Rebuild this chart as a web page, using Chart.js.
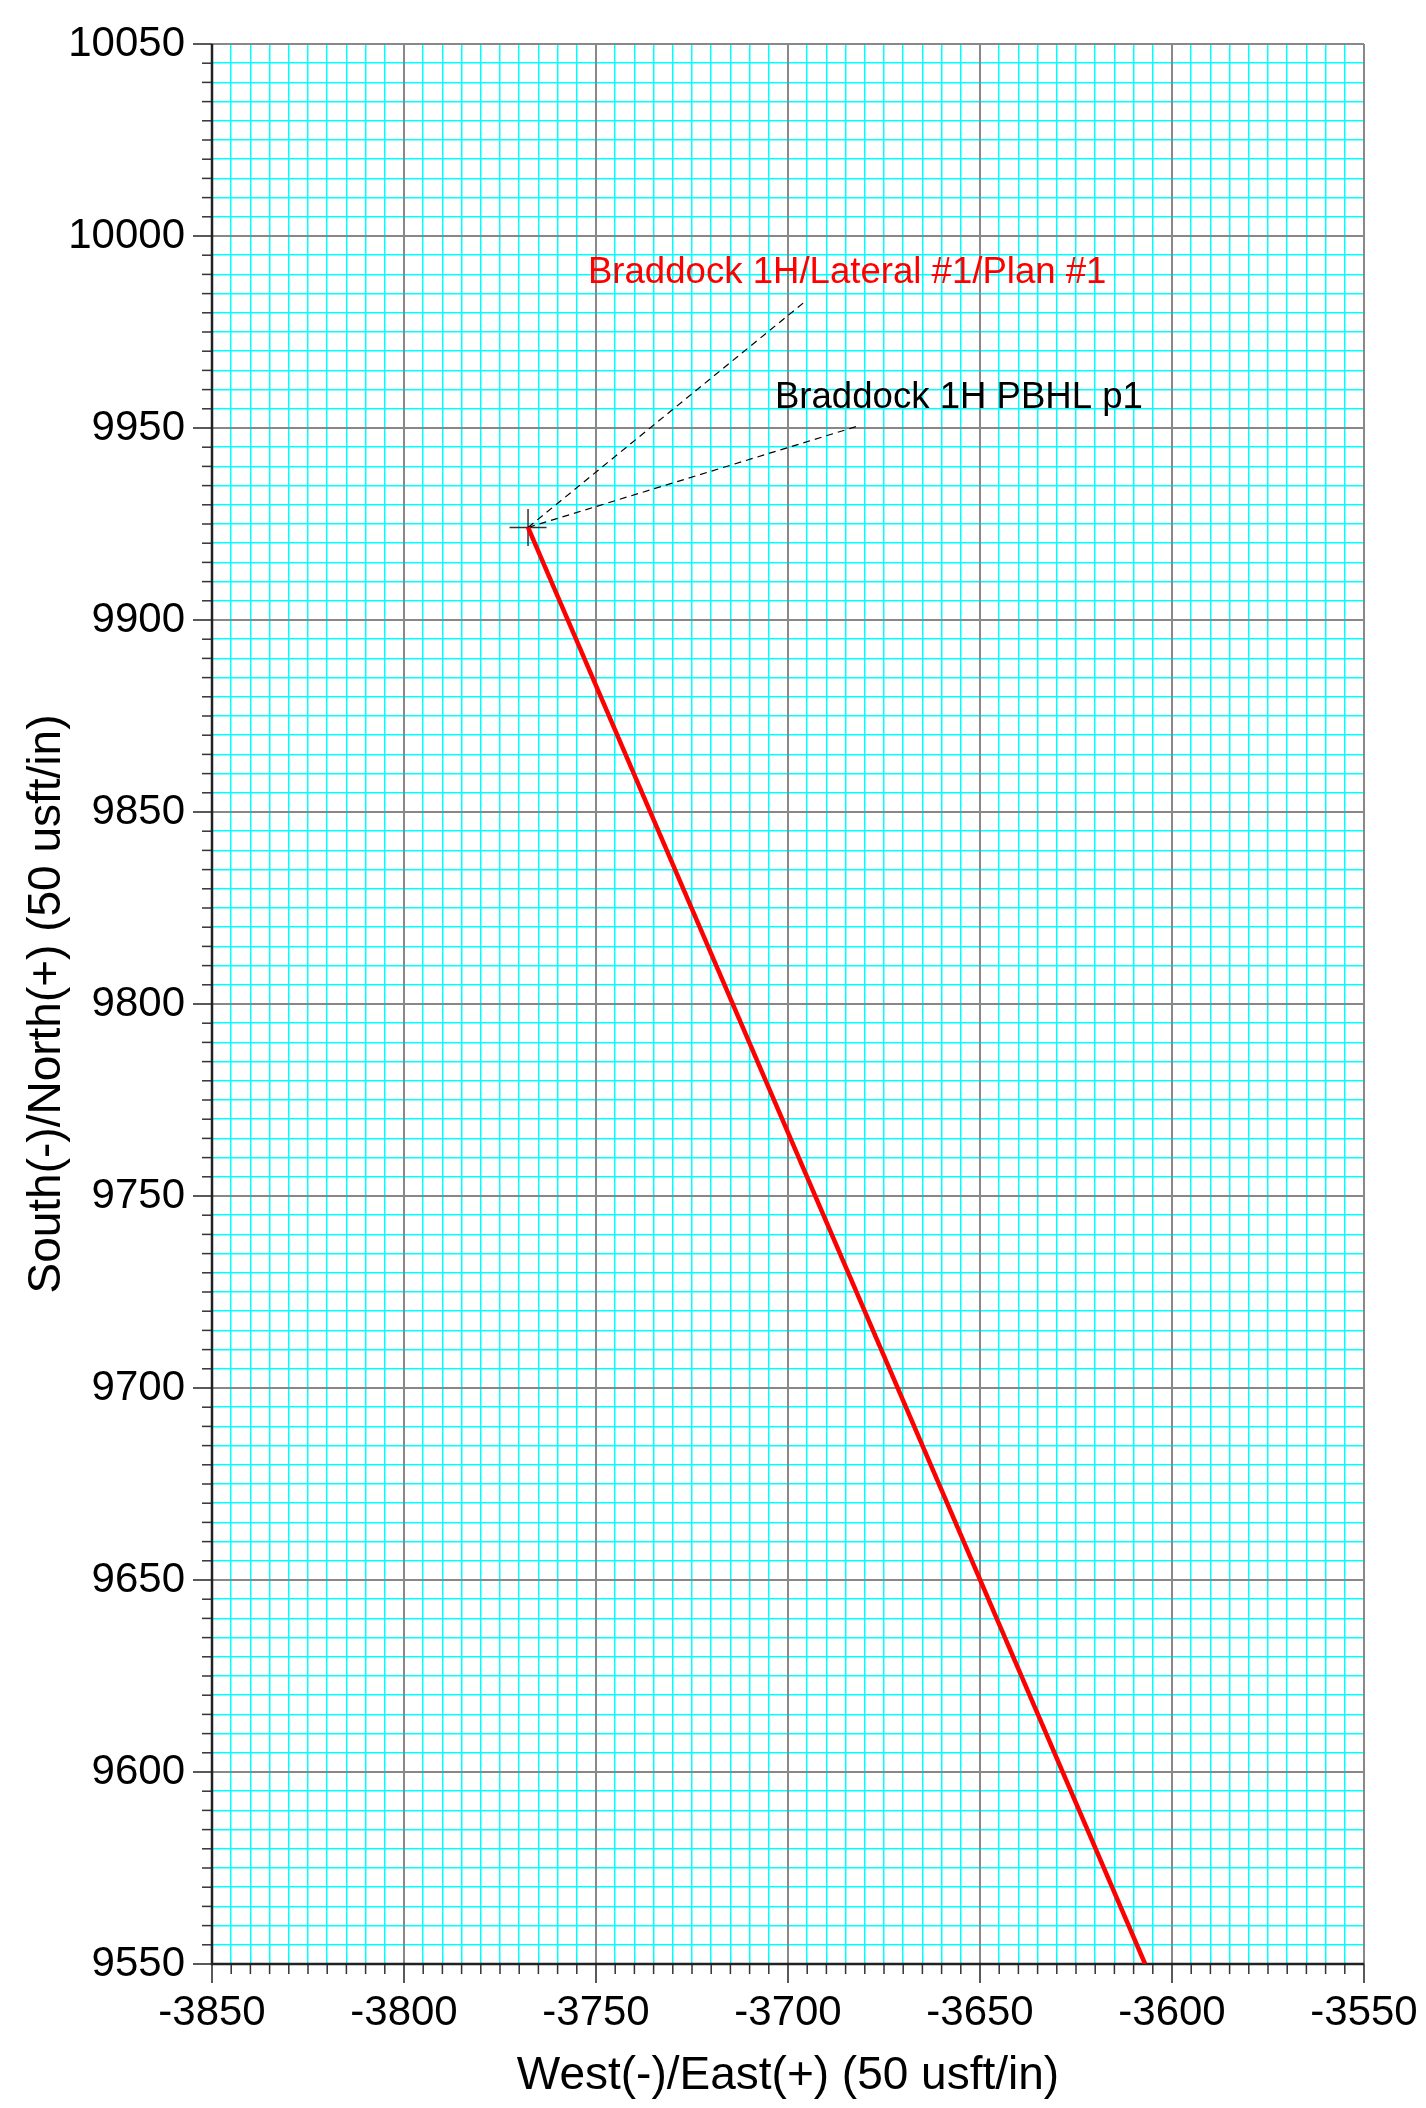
<!DOCTYPE html>
<html lang="en">
<head>
  <meta charset="UTF-8">
  <title>Braddock 1H Plan View</title>
  <script src="https://cdn.jsdelivr.net/npm/chart.js"></script>
  <style>
    body {
      margin: 0;
      padding: 0;
      background-color: white;
    }
    .chart-box {
      width: 1426px;
      height: 2108px;
    }
  </style>
</head>
<body>
  <div class="chart-box">
    <canvas id="planChart"></canvas>
  </div>

  <script>
    // axis ranges and tick steps (usft)
    const eastRange = [-3850, -3550];
    const northRange = [9550, 10050];
    const majorStep = 50;
    const minorStep = 5;

    // well path, plan #1
    const planEast = [-3767.7, -3607.0];
    const planNorth = [9924.1, 9550];

    // target marker (PBHL)
    const targetEast = [-3767.7];
    const targetNorth = [9924.1];

    // annotation texts, where they sit and where their leader lines end
    const labelTexts = ['Braddock 1H/Lateral #1/Plan #1', 'Braddock 1H PBHL p1'];
    const labelColors = ['#ff0000', '#000000'];
    const labelEast = [-3752.1, -3703.4];
    const labelNorth = [9987.8, 9955.2];
    const leaderEast = [-3695.1, -3681.8];
    const leaderNorth = [9983.3, 9950.5];

    const fontFamily = "'Liberation Sans', Arial, Helvetica, sans-serif";

    function isMajor(v) {
      return Math.round(v) % majorStep === 0;
    }

    const planData = planEast.map((x, i) => ({ x: x, y: planNorth[i] }));
    const targetData = targetEast.map((x, i) => ({ x: x, y: targetNorth[i] }));
    const leaderSets = labelTexts.map((t, i) => ({
      data: [
        { x: targetEast[0], y: targetNorth[0] },
        { x: leaderEast[i], y: leaderNorth[i] }
      ],
      showLine: true,
      borderColor: '#000',
      borderWidth: 1.2,
      borderDash: [7, 5],
      pointRadius: 0
    }));

    // minor ticks, major grid on top of the cyan grid, and the well labels
    const paperPlugin = {
      id: 'paper',
      beforeDatasetsDraw(chart) {
        const ctx = chart.ctx;
        const area = chart.chartArea;
        const xs = chart.scales.x, ys = chart.scales.y;
        ctx.save();
        ctx.strokeStyle = '#888';
        ctx.lineWidth = 2;
        xs.ticks.forEach(t => {
          if (!isMajor(t.value)) return;
          const px = xs.getPixelForValue(t.value);
          ctx.beginPath();
          ctx.moveTo(px, area.top);
          ctx.lineTo(px, area.bottom);
          ctx.stroke();
        });
        ys.ticks.forEach(t => {
          if (!isMajor(t.value)) return;
          const py = ys.getPixelForValue(t.value);
          ctx.beginPath();
          ctx.moveTo(area.left, py);
          ctx.lineTo(area.right, py);
          ctx.stroke();
        });
        // minor tick marks outside the frame
        ctx.strokeStyle = '#333';
        ctx.lineWidth = 1.5;
        xs.ticks.forEach(t => {
          if (isMajor(t.value)) return;
          const px = xs.getPixelForValue(t.value);
          ctx.beginPath();
          ctx.moveTo(px, area.bottom);
          ctx.lineTo(px, area.bottom + 10);
          ctx.stroke();
        });
        ys.ticks.forEach(t => {
          if (isMajor(t.value)) return;
          const py = ys.getPixelForValue(t.value);
          ctx.beginPath();
          ctx.moveTo(area.left - 10, py);
          ctx.lineTo(area.left, py);
          ctx.stroke();
        });
        // left and bottom frame in black
        ctx.strokeStyle = '#222';
        ctx.lineWidth = 2.5;
        ctx.beginPath();
        ctx.moveTo(area.left, area.top);
        ctx.lineTo(area.left, area.bottom);
        ctx.lineTo(area.right, area.bottom);
        ctx.stroke();
        ctx.restore();
      },
      afterDatasetsDraw(chart) {
        const ctx = chart.ctx;
        const xs = chart.scales.x, ys = chart.scales.y;
        ctx.save();
        ctx.font = '36.6px ' + fontFamily;
        ctx.textAlign = 'left';
        ctx.textBaseline = 'alphabetic';
        labelTexts.forEach((txt, i) => {
          ctx.fillStyle = labelColors[i];
          ctx.fillText(txt, xs.getPixelForValue(labelEast[i]), ys.getPixelForValue(labelNorth[i]));
        });
        ctx.restore();
      }
    };

    new Chart(document.getElementById('planChart'), {
      type: 'scatter',
      data: {
        datasets: [
          {
            data: planData,
            showLine: true,
            borderColor: '#ff0000',
            borderWidth: 4.5,
            pointRadius: 0
          },
          ...leaderSets,
          {
            data: targetData,
            pointStyle: 'cross',
            pointRadius: 18.5,
            pointBorderColor: '#333',
            pointBorderWidth: 1.5,
            showLine: false
          }
        ]
      },
      options: {
        responsive: true,
        maintainAspectRatio: false,
        animation: false,
        events: [],
        layout: {
          padding: { left: 0, top: 44, right: 62, bottom: 0 }
        },
        plugins: {
          legend: { display: false },
          tooltip: { enabled: false }
        },
        scales: {
          x: {
            type: 'linear',
            min: eastRange[0],
            max: eastRange[1],
            afterFit: s => { s.height = 144; },
            border: { display: false },
            grid: {
              color: c => isMajor(c.tick.value) ? '#888' : '#00ffff',
              lineWidth: c => isMajor(c.tick.value) ? 2 : 1.5,
              tickColor: c => isMajor(c.tick.value) ? '#222' : 'rgba(0,0,0,0)',
              tickLength: 19,
              tickWidth: 1.5
            },
            ticks: {
              stepSize: minorStep,
              autoSkip: false,
              maxTicksLimit: 1000,
              maxRotation: 0,
              minRotation: 0,
              padding: 5,
              color: '#000',
              font: { family: fontFamily, size: 42 },
              callback: v => isMajor(v) ? String(Math.round(v)) : ''
            },
            title: {
              display: true,
              text: 'West(-)/East(+) (50 usft/in)',
              color: '#000',
              font: { family: fontFamily, size: 46 },
              padding: { top: 0, bottom: 4 }
            }
          },
          y: {
            type: 'linear',
            min: northRange[0],
            max: northRange[1],
            afterFit: s => { s.width = 212; },
            border: { display: false },
            grid: {
              color: c => isMajor(c.tick.value) ? '#888' : '#00ffff',
              lineWidth: c => isMajor(c.tick.value) ? 2 : 1.5,
              tickColor: c => isMajor(c.tick.value) ? '#222' : 'rgba(0,0,0,0)',
              tickLength: 19,
              tickWidth: 1.5
            },
            ticks: {
              stepSize: minorStep,
              autoSkip: false,
              maxTicksLimit: 1000,
              padding: 8,
              color: '#000',
              font: { family: fontFamily, size: 42 },
              callback: v => isMajor(v) ? String(Math.round(v)) : ''
            },
            title: {
              display: true,
              text: 'South(-)/North(+) (50 usft/in)',
              color: '#000',
              font: { family: fontFamily, size: 46 },
              padding: { top: 20, bottom: 0 }
            }
          }
        }
      },
      plugins: [paperPlugin]
    });
  </script>
</body>
</html>
